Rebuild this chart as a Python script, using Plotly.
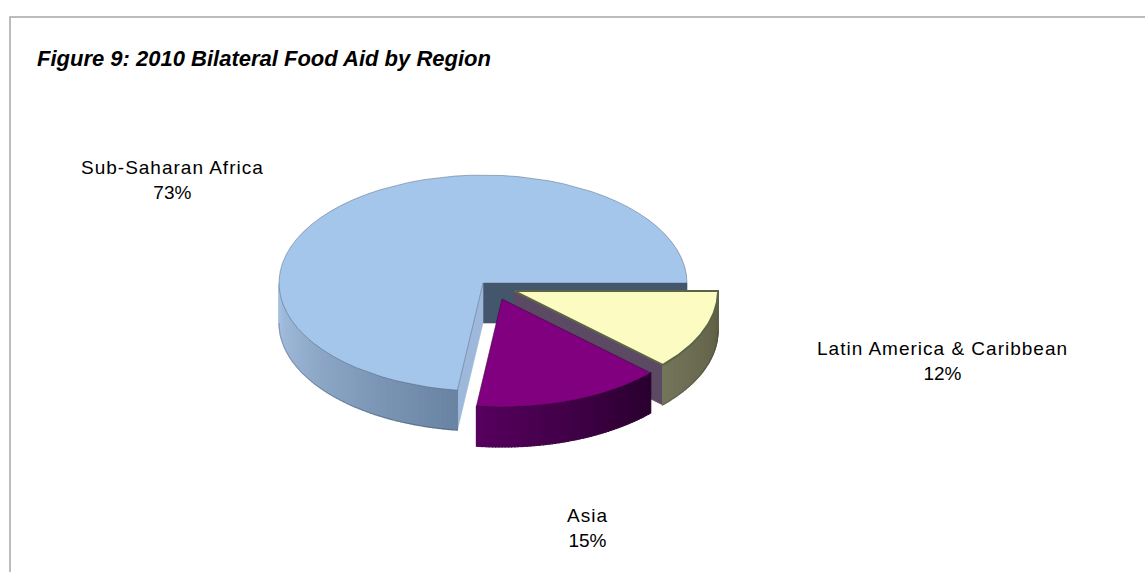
import numpy as np
import plotly.graph_objects as go

# ---- data -------------------------------------------------------------
regions = ["Sub-Saharan Africa", "Asia", "Latin America & Caribbean"]
shares = [73, 15, 12]

# ---- styling ----------------------------------------------------------
top_colors = ["#A4C6EA", "#800080", "#FBFBC2"]
top_lines = ["rgba(70,85,110,0.55)", "rgba(60,0,60,0.7)", "#5C6448"]
top_line_w = [0.8, 0.8, 2.0]
wall_from = ["#A9C3E3", "#57005E", "#74745A"]
wall_to = ["#6A84A4", "#2A002F", "#5E5E45"]
start_face = ["#44566C", "#4A0050", "#5C4A64"]   # face at the slice's start angle
end_face = ["#9DB8DA", "#3A0040", "#5E6448"]     # face at the slice's end angle
explode = [(0, 0), (19, 16), (31, 8)]            # slice explosion, px
label_pos = [(172, 180), (587, 528), (942, 361)]

# pie geometry (pixel space)
CX, CY, RX, RY, DEPTH = 483, 283, 204, 108, 40
W, H = 1145, 572
FONT = "Liberation Sans, Arial, sans-serif"

total = float(sum(shares))
angles = np.cumsum([0.0] + [s / total * 360.0 for s in shares])


def hex_rgb(h):
    h = h.lstrip("#")
    return np.array([int(h[i:i + 2], 16) for i in (0, 2, 4)], dtype=float)


def mix(a, b, t):
    c = hex_rgb(a) * (1 - t) + hex_rgb(b) * t
    return "rgb(%d,%d,%d)" % tuple(np.round(c).astype(int))


def arc(t0, t1, ox, oy, dz=0.0, n=60):
    th = np.radians(np.linspace(t0, t1, n))
    return ox + RX * np.cos(th), oy - RY * np.sin(th) + dz


fig = go.Figure()


def poly(xs, ys, fill, line=None, lw=0.6):
    fig.add_trace(go.Scatter(
        x=list(xs) + [xs[0]], y=list(ys) + [ys[0]], mode="lines",
        fill="toself", fillcolor=fill,
        line=dict(color=line or fill, width=lw),
        hoverinfo="skip", showlegend=False))


def radial_face(theta, ox, oy, color):
    px = ox + RX * np.cos(np.radians(theta))
    py = oy - RY * np.sin(np.radians(theta))
    poly([ox, px, px, ox], [oy, py, py + DEPTH, oy + DEPTH], color)


def draw_slice(i):
    t0, t1 = angles[i], angles[i + 1]
    ox = CX + explode[i][0]
    oy = CY + explode[i][1]

    # cut faces that turn toward the viewer
    if np.sin(np.radians(t0 - 90)) < 0:
        radial_face(t0, ox, oy, start_face[i])
    if np.sin(np.radians(t1 + 90)) < 0:
        radial_face(t1, ox, oy, end_face[i])

    # outer wall: only the front half (180..360 deg) is visible
    lo, hi = max(t0, 180.0), min(t1, 360.0)
    if hi > lo:
        n = 60
        edges = np.linspace(lo, hi, n + 1)
        for k in range(n):
            xa, ya = arc(edges[k], edges[k + 1], ox, oy, 0, 4)
            xb, yb = arc(edges[k + 1], edges[k], ox, oy, DEPTH, 4)
            col = mix(wall_from[i], wall_to[i], k / (n - 1))
            poly(np.r_[xa, xb], np.r_[ya, yb], col, col, 1.2)
        # outline of the wall bottom
        xb, yb = arc(lo, hi, ox, oy, DEPTH)
        fig.add_trace(go.Scatter(x=xb, y=yb, mode="lines",
                                 line=dict(color="rgba(40,40,50,0.35)", width=0.8),
                                 hoverinfo="skip", showlegend=False))

    # top face
    xa, ya = arc(t0, t1, ox, oy)
    poly(np.r_[ox, xa], np.r_[oy, ya], top_colors[i], top_lines[i], top_line_w[i])


# back to front: the large slice, then the right-hand slice, then the front one
for idx in (0, 2, 1):
    draw_slice(idx)

annotations = [dict(
    x=label_pos[i][0], y=label_pos[i][1], xref="x", yref="y",
    text=f"<span style='letter-spacing:1px'>{regions[i]}</span><br>{shares[i]}%",
    showarrow=False,
    font=dict(family=FONT, size=19, color="black"),
    align="center") for i in range(len(regions))]

annotations.append(dict(
    x=35, y=58, xref="x", yref="y", xanchor="left", yanchor="middle",
    text="<b><i>Figure 9: 2010 Bilateral Food Aid by Region</i></b>",
    showarrow=False,
    font=dict(family=FONT, size=22, color="black")))

fig.update_layout(
    width=W, height=H, margin=dict(l=0, r=0, t=0, b=0),
    paper_bgcolor="white", plot_bgcolor="white",
    xaxis=dict(range=[0, W], visible=False, fixedrange=True),
    yaxis=dict(range=[H, 0], visible=False, fixedrange=True),
    annotations=annotations,
    shapes=[dict(type="rect", xref="x", yref="y", x0=10, y0=17, x1=W + 20, y1=H + 20,
                 line=dict(color="#A6A6A6", width=1.5), fillcolor="rgba(0,0,0,0)",
                 layer="below")],
)

fig.write_html("out.html")
